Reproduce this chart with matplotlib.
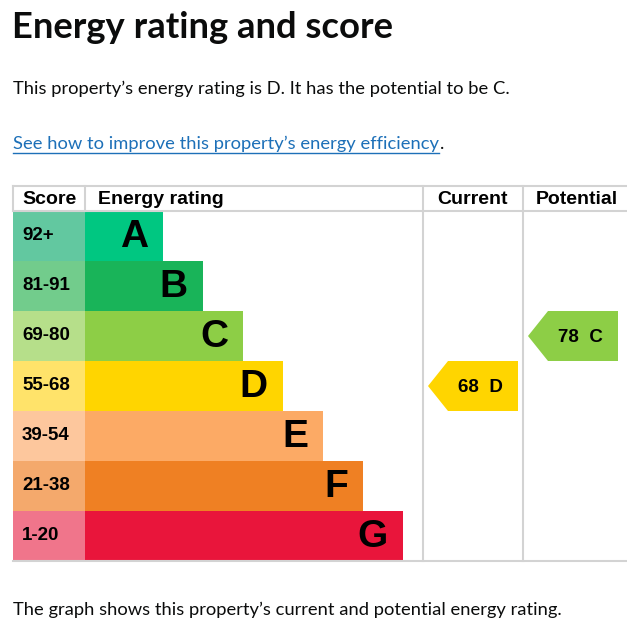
import matplotlib.pyplot as plt
from matplotlib.patches import Rectangle, Polygon

bands = ['A', 'B', 'C', 'D', 'E', 'F', 'G']
score_ranges = ['92+', '81-91', '69-80', '55-68', '39-54', '21-38', '1-20']
band_low = [92, 81, 69, 55, 39, 21, 1]
bar_colors = ['#00c781', '#19b459', '#8dce46', '#ffd500', '#fcaa65', '#ef8023', '#e9153b']
score_colors = ['#62c8a0', '#72cc8c', '#b6df8a', '#ffe36a', '#fdc79d', '#f4a96c', '#f0758b']
current_score, current_band = 68, 'D'
potential_score, potential_band = 78, 'C'

W, H = 627, 631
fig = plt.figure(figsize=(W / 100, H / 100), dpi=100)
ax = fig.add_axes([0, 0, 1, 1])
ax.set_xlim(0, W)
ax.set_ylim(H, 0)
ax.axis('off')

body_font = ['Lato', 'DejaVu Sans']
table_font = ['Liberation Sans', 'DejaVu Sans']

ax.text(12, 27, 'Energy rating and score', fontsize=26.2, fontweight='bold',
        family=body_font, va='center', color='#0b0c0c')
ax.text(13, 89, "This property\u2019s energy rating is D. It has the potential to be C.",
        fontsize=13.2, family=body_font, va='center', color='#0b0c0c')
link = ax.text(13, 144, "See how to improve this property\u2019s energy efficiency",
               fontsize=13.2, family=body_font, va='center', color='#1d70b8')
ax.text(13, 610, "The graph shows this property\u2019s current and potential energy rating.",
        fontsize=13.2, family=body_font, va='center', color='#0b0c0c')

# table layout
left, score_w, bar_x = 13, 72, 85
cur_x, pot_x, right = 423, 523, 627
top, head_h, row_h = 186, 25, 50
body_top = top + head_h
bottom = body_top + row_h * len(bands)
grid = '#d3d3d3'

ax.plot([left, right], [top, top], color=grid, lw=1.5)
ax.plot([left, right], [body_top, body_top], color=grid, lw=1.5)
ax.plot([left, right], [bottom, bottom], color=grid, lw=1.5)
for x in [left, bar_x, cur_x, pot_x]:
    ax.plot([x, x], [top, body_top if x in (left, bar_x) else bottom], color=grid, lw=1.5)

hy = top + head_h / 2 + 1
ax.text(22, hy, 'Score', fontsize=14, fontweight='bold', family=table_font, va='center')
ax.text(98, hy, 'Energy rating', fontsize=14, fontweight='bold', family=table_font, va='center')
ax.text((cur_x + pot_x) / 2, hy, 'Current', fontsize=14, fontweight='bold',
        family=table_font, va='center', ha='center')
ax.text((pot_x + right) / 2 + 2, hy, 'Potential', fontsize=14, fontweight='bold',
        family=table_font, va='center', ha='center')

for i, (band, rng) in enumerate(zip(bands, score_ranges)):
    y0 = body_top + i * row_h
    bw = 78 + 40 * i
    ax.add_patch(Rectangle((left, y0), score_w, row_h, color=score_colors[i], lw=0))
    ax.add_patch(Rectangle((bar_x, y0), bw, row_h, color=bar_colors[i], lw=0))
    ax.text(22, y0 + row_h / 2, rng, fontsize=13.5, fontweight='bold',
            family=table_font, va='center')
    ax.text(bar_x + bw - 15, y0 + row_h / 2 + 1, band, fontsize=28, fontweight='bold',
            family=table_font, va='center', ha='right')


def arrow(x0, score, band):
    i = bands.index(band)
    y0 = body_top + i * row_h
    pts = [(x0 + 5, y0 + row_h / 2), (x0 + 25, y0), (x0 + 95, y0),
           (x0 + 95, y0 + row_h), (x0 + 25, y0 + row_h)]
    ax.add_patch(Polygon(pts, closed=True, color=bar_colors[i], lw=0))
    ax.text(x0 + 57, y0 + row_h / 2 + 1, f'{score}  {band}', fontsize=13.5, fontweight='bold',
            family=table_font, va='center', ha='center')


arrow(cur_x, current_score, current_band)
arrow(pot_x, potential_score, potential_band)

# underline the link, then the trailing full stop
fig.canvas.draw()
bb = link.get_window_extent().transformed(ax.transData.inverted())
x1, x2 = bb.x0, bb.x1
ax.plot([x1, x2], [153, 153], color='#1d70b8', lw=1)
ax.text(x2 + 1, 144, '.', fontsize=13.2, family=body_font, va='center', color='#0b0c0c')

fig.savefig('out.png', dpi=100)
